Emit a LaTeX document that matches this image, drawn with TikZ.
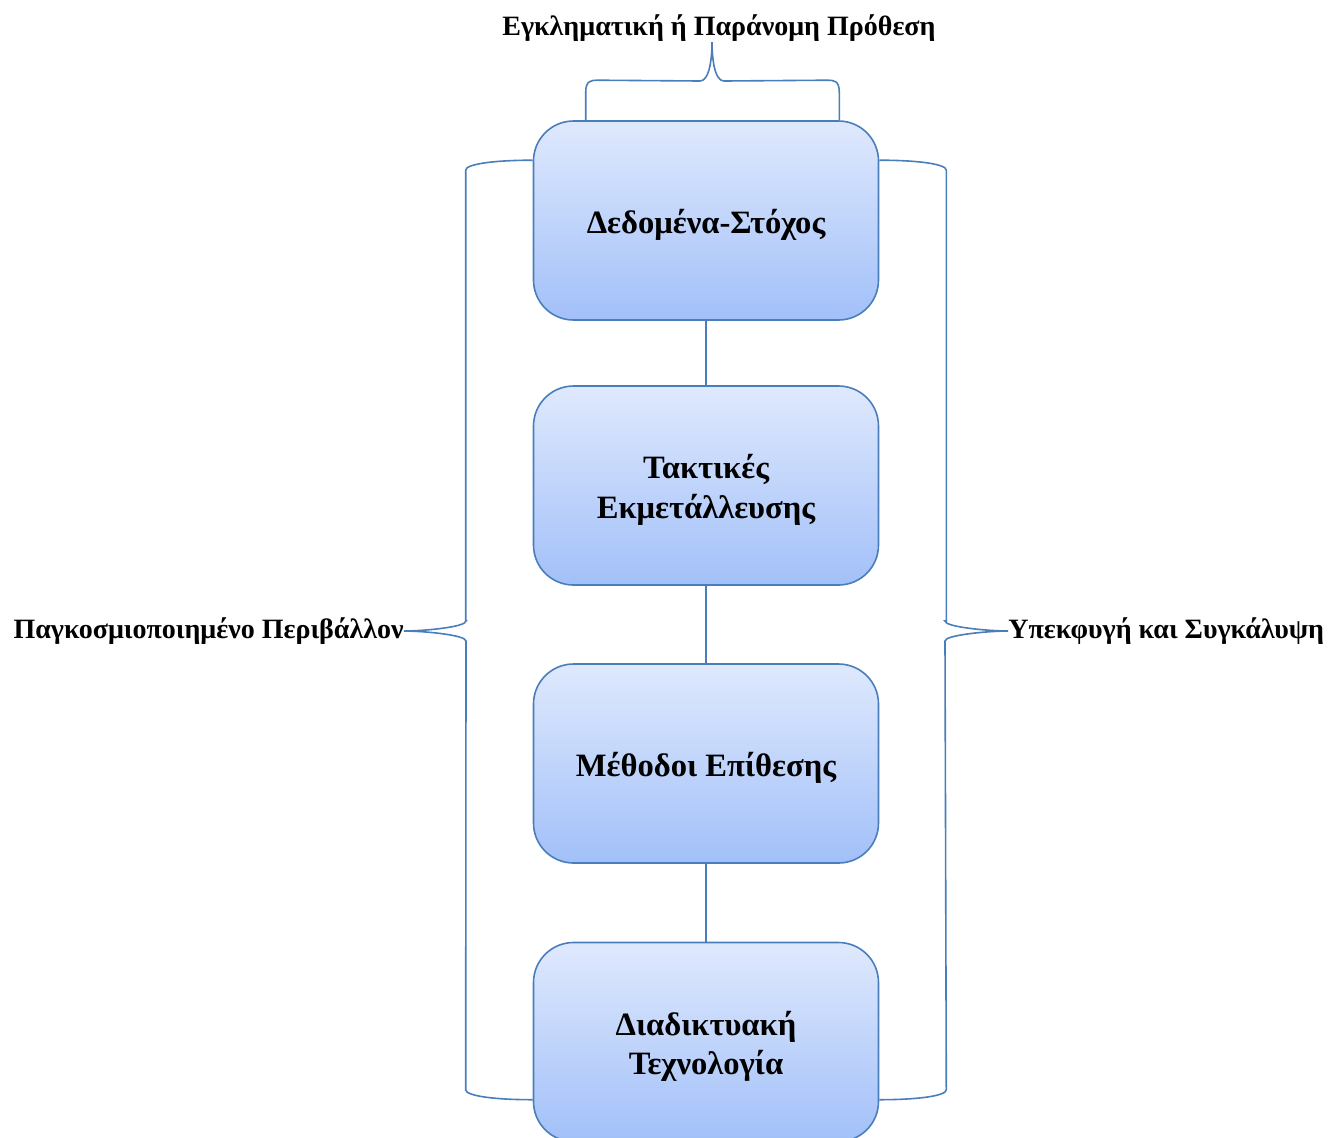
\documentclass[tikz,border=0pt]{standalone}
\usepackage{fontspec}
\setmainfont{Liberation Serif}
\usetikzlibrary{positioning,calc,shapes}

\definecolor{boxline}{RGB}{74,126,187}
\definecolor{boxtop}{RGB}{223,233,253}
\definecolor{boxbot}{RGB}{162,192,249}

\newcommand{\toplift}{\rule{0pt}{16.5pt}}

\tikzset{
  layer/.style={draw=boxline, line width=0.8pt, rounded corners=20pt,
                top color=boxtop, bottom color=boxbot,
                minimum width=172.5pt, minimum height=99.5pt,
                align=center, font=\fontsize{16.3}{19.8}\selectfont\bfseries},
  side/.style={font=\fontsize{14}{16}\selectfont\bfseries, inner sep=0pt},
  brace/.style={draw=boxline, line width=0.8pt}
}

\begin{document}
\begin{tikzpicture}[x=0.5pt, y=-0.5pt]
  \useasboundingbox (0,0) rectangle (1329,1137);

  % Layers
  \node[layer] (data) at (706,220.5) {\toplift Δεδομένα-Στόχος};
  \node[layer] (tactics) at (706,485.5) {\toplift Τακτικές\\Εκμετάλλευσης};
  \node[layer] (methods) at (706,763.5) {\toplift Μέθοδοι Επίθεσης};
  \node[layer] (tech) at (706,1042) {\toplift Διαδικτυακή\\Τεχνολογία};

  \draw[brace] (data) -- (tactics);
  \draw[brace] (tactics) -- (methods);
  \draw[brace] (methods) -- (tech);

  % Side labels
  \node[side] (intent) at (719,28) {Εγκληματική ή Παράνομη Πρόθεση};
  \node[side, anchor=east] (globe) at (404,631) {Παγκοσμιοποιημένο Περιβάλλον};
  \node[side, anchor=west] (evade) at (1008,631) {Υπεκφυγή και Συγκάλυψη};

  % Braces
  \coordinate (tip) at (712,42);
  \draw[brace] ($(data.north west)+(53,0)$) -- ++(0,-28)
    .. controls ++(0,-12) and ++(-6,0) .. ++(12,-12) -- ($(tip)+(-12,39)$)
    .. controls ++(10,0) and ++(0,14) .. (tip)
    .. controls ++(0,14) and ++(-10,0) .. ($(tip)+(12,39)$)
    -- ($(data.north east)+(-52,-40)$)
    .. controls ++(6,0) and ++(0,-12) .. ++(12,12) -- ($(data.north east)+(-40,0)$);

  \draw[brace] ($(data.north west)+(0,40)$)
    .. controls ++(-40,0) and ++(0,-6) .. ($(data.north west)+(-67,50)$)
    |- ($(globe.east)+(62,-10)$)
    .. controls ++(0,6) and ++(20,0) .. (globe.east)
    .. controls ++(20,0) and ++(0,-6) .. ($(globe.east)+(62,10)$)
    -- ($(tech.north west)+(-67,148)$)
    .. controls ++(0,6) and ++(-40,0) .. ($(tech.north west)+(0,158)$);

  \draw[brace] ($(data.north east)+(0,40)$)
    .. controls ++(40,0) and ++(0,-6) .. ($(data.north east)+(67,50)$)
    |- ($(evade.west)+(-63,-10)$)
    .. controls ++(0,6) and ++(-20,0) .. (evade.west)
    .. controls ++(-20,0) and ++(0,-6) .. ($(evade.west)+(-63,10)$)
    -- ($(tech.north east)+(67,148)$)
    .. controls ++(0,6) and ++(40,0) .. ($(tech.north east)+(0,158)$);
\end{tikzpicture}
\end{document}
